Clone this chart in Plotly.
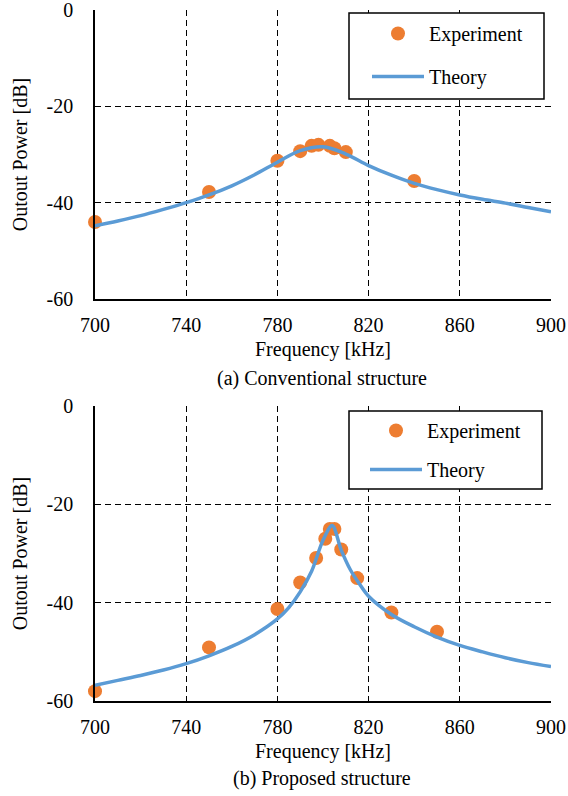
import plotly.graph_objects as go

# ---- data ----
exp_a_freq = [700, 750, 780, 790, 795, 798, 803, 805, 810, 840]
exp_a_power = [-44.0, -37.8, -31.3, -29.3, -28.2, -28.0, -28.2, -28.7, -29.5, -35.5]

theory_a_freq = [700, 710, 720, 730, 740, 750, 760, 770, 780, 790, 800,
                 810, 820, 830, 840, 850, 860, 870, 880, 890, 900]
theory_a_power = [-44.8, -43.8, -42.7, -41.4, -40.0, -38.4, -36.5, -34.2, -31.6, -29.2, -28.4,
                  -29.9, -32.3, -34.3, -36.0, -37.3, -38.4, -39.3, -40.1, -41.0, -41.9]

exp_b_freq = [700, 750, 780, 790, 797, 801, 803, 805, 808, 815, 830, 850]
exp_b_power = [-58.0, -49.1, -41.3, -35.9, -30.9, -27.0, -25.0, -25.0, -29.2, -35.0, -42.0, -45.9]

theory_b_freq = [700, 710, 720, 730, 740, 750, 760, 770, 780, 785, 790, 795, 800, 804,
                 808, 812, 816, 820, 830, 840, 850, 860, 870, 880, 890, 900]
theory_b_power = [-56.8, -55.8, -54.8, -53.7, -52.4, -50.8, -48.9, -46.5, -43.3, -41.0, -37.8,
                  -33.6, -27.3, -24.3, -29.3, -33.3, -36.2, -38.7, -42.4, -44.9, -47.0, -48.7,
                  -50.0, -51.2, -52.2, -53.0]

x_ticks = [700, 740, 780, 820, 860, 900]
x_tick_labels = ["700", "740", "780", "820", "860", "900"]
y_ticks = [0, -20, -40, -60]
y_tick_labels = ["0", "-20", "-40", "-60"]
captions = ["(a) Conventional structure", "(b) Proposed structure"]
x_title = "Frequency [kHz]"
y_title = "Outout Power [dB]"

ORANGE = "#ED7D31"
BLUE = "#5B9BD5"
FONT = "Times New Roman, Liberation Serif, serif"

W, H = 568, 796
ML, MR, MT, MB = 95, 17, 10, 95
PW = W - ML - MR
PH = H - MT - MB


def py(ypx):
    return (H - MB - ypx) / PH


def px(xpx):
    return (xpx - ML) / PW


fig = go.Figure()

panels = [
    (exp_a_freq, exp_a_power, theory_a_freq, theory_a_power, "x", "y", "legend", 1.0),
    (exp_b_freq, exp_b_power, theory_b_freq, theory_b_power, "x2", "y2", "legend2", 0.9),
]
for ef, ep, tf, tp, xa, ya, lg, sm in panels:
    fig.add_trace(go.Scatter(x=ef, y=ep, mode="markers", name="Experiment",
                             marker=dict(color=ORANGE, size=14), cliponaxis=False,
                             xaxis=xa, yaxis=ya, legend=lg, legendgroup=lg + "e"))
    fig.add_trace(go.Scatter(x=tf, y=tp, mode="lines", name="Theory",
                             line=dict(color=BLUE, width=3.5, shape="spline", smoothing=sm),
                             xaxis=xa, yaxis=ya, legend=lg, legendgroup=lg + "t"))

TXT = dict(family=FONT, size=20, color="black")


def axis(**kw):
    d = dict(showgrid=True, gridcolor="black", gridwidth=1.2, griddash="6px,4px",
             showline=True, linecolor="black", linewidth=1.6, zeroline=False,
             ticks="", automargin=False, tickfont=TXT, ticklabeloverflow="allow")
    d.update(kw)
    return d


top_dom = [py(299), 1.0]
bot_dom = [0.0, py(406)]

fig.update_layout(
    template="none",
    width=W, height=H,
    margin=dict(l=ML, r=MR, t=MT, b=MB, autoexpand=False),
    paper_bgcolor="white", plot_bgcolor="white",
    font=TXT,
    showlegend=True,
    xaxis=axis(range=[700, 900], tickvals=x_ticks, ticktext=x_tick_labels, domain=[0, 1],
               anchor="y", title=dict(text=x_title, font=TXT, standoff=7),
               ticklabelstandoff=7),
    yaxis=axis(range=[-60, 0], tickvals=y_ticks, ticktext=y_tick_labels, domain=top_dom,
               anchor="x", title=dict(text=y_title, font=TXT, standoff=14),
               ticklabelstandoff=16),
    xaxis2=axis(range=[700, 900], tickvals=x_ticks, ticktext=x_tick_labels, domain=[0, 1],
                anchor="y2", title=dict(text=x_title, font=TXT, standoff=7),
                ticklabelstandoff=7),
    yaxis2=axis(range=[-60, 0], tickvals=y_ticks, ticktext=y_tick_labels, domain=bot_dom,
                anchor="x2", title=dict(text=y_title, font=TXT, standoff=14),
                ticklabelstandoff=16),
    legend=dict(x=px(367), y=py(14), xanchor="left", yanchor="top",
                bgcolor="rgba(0,0,0,0)", borderwidth=0, itemwidth=52,
                traceorder="grouped", tracegroupgap=14, font=TXT),
    legend2=dict(x=px(365), y=py(411), xanchor="left", yanchor="top",
                 bgcolor="rgba(0,0,0,0)", borderwidth=0, itemwidth=52,
                 traceorder="grouped", tracegroupgap=10, font=TXT),
    shapes=[
        dict(type="rect", xref="paper", yref="paper", x0=px(349), x1=px(544),
             y0=py(99), y1=py(13), fillcolor="white", line=dict(color="black", width=1.5),
             layer="above"),
        dict(type="rect", xref="paper", yref="paper", x0=px(349), x1=px(542),
             y0=py(489), y1=py(411), fillcolor="white", line=dict(color="black", width=1.5),
             layer="above"),
    ],
    annotations=[
        dict(text=captions[0], xref="paper", yref="paper", x=px(322), y=py(378),
             xanchor="center", yanchor="middle", showarrow=False, font=TXT),
        dict(text=captions[1], xref="paper", yref="paper", x=px(322), y=py(778),
             xanchor="center", yanchor="middle", showarrow=False, font=TXT),
    ],
)

fig.write_html("out.html", config={"displayModeBar": False},
               post_script="document.body.style.margin='0';document.body.style.padding='0';")
